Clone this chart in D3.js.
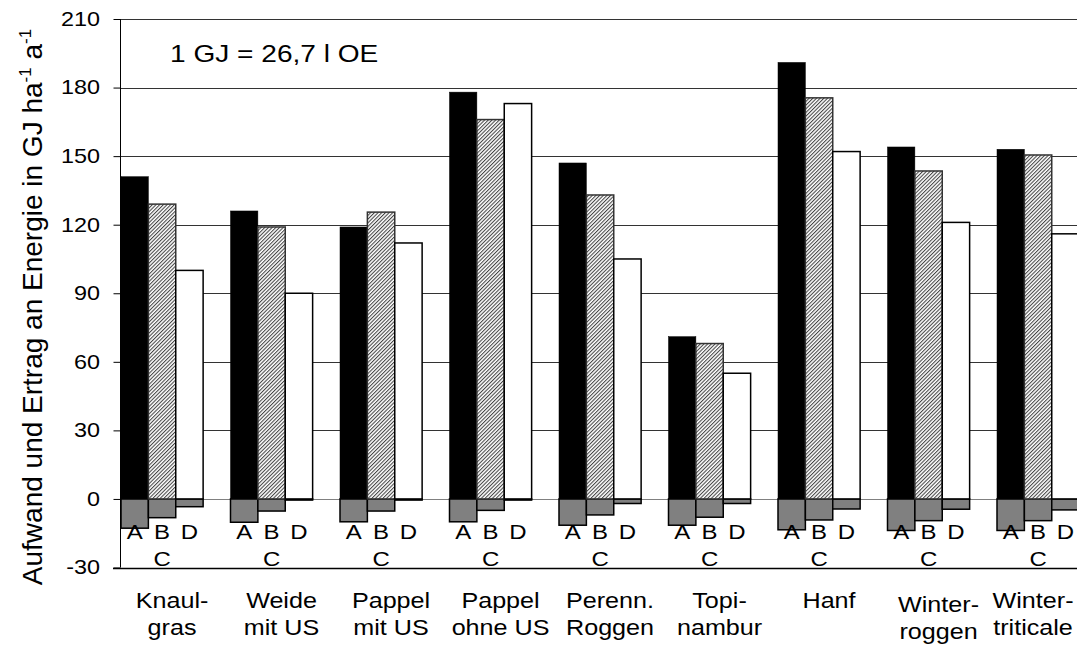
<!DOCTYPE html>
<html><head><meta charset="utf-8">
<script src="https://cdn.jsdelivr.net/npm/d3@7"></script>
<style>html,body{margin:0;padding:0;background:#fff;}svg{display:block;font-family:Arial,"Liberation Sans",sans-serif;}</style>
</head><body>
<svg id="c" width="1077" height="645"></svg>
<script>
const categories = [["Knaul-","gras"],["Weide","mit US"],["Pappel","mit US"],["Pappel","ohne US"],["Perenn.","Roggen"],["Topi-","nambur"],["Hanf",""],["Winter-","roggen"],["Winter-","triticale"]];
const seriesA = [141,126,119,178,147,71,191,154,153];
const seriesB = [129,119,125.5,166,133,68,175.5,143.5,150.5];
const seriesD = [100,90,112,173,105,55,152,121,116];
const negA = [-12.8,-10.2,-10,-10,-11.5,-11.5,-13.5,-13.8,-13.8];
const negB = [-8.2,-5.3,-5.3,-5,-7,-8,-9.2,-9.5,-9.5];
const negD = [-3.4,-0.5,-0.5,-0.5,-2,-2,-4.4,-4.5,-4.8];
const yTicks = [-30,0,30,60,90,120,150,180,210];
const slotLabels = ["A","B","D"];

const SX = 1.17; // horizontal stretch of horizontal text
const svg = d3.select("#c");
const defs = svg.append("defs");
const pat = defs.append("pattern").attr("id","hatch").attr("patternUnits","userSpaceOnUse")
  .attr("width",2.6).attr("height",2.6).attr("patternTransform","rotate(45)");
pat.append("rect").attr("width",2.6).attr("height",2.6).attr("fill","#fff");
pat.append("rect").attr("width",1.05).attr("height",2.6).attr("fill","#444");

function htext(sel, x, y, size, txt, anchor){
  return sel.append("text").attr("transform",`translate(${x},${y}) scale(${SX},1)`)
    .attr("text-anchor",anchor||"middle").attr("font-size",size).text(txt);
}

const y = d3.scaleLinear().domain([-30,210]).range([567.5,19]);
const x0 = d3.scaleBand().domain(d3.range(categories.length)).range([121,121+109.5*categories.length]);
const x1 = d3.scaleBand().domain([0,1,2,3]).range([0,x0.bandwidth()]);

// gridlines
svg.append("g").selectAll("line").data(yTicks.filter(t=>t>-30)).join("line")
  .attr("x1",120).attr("x2",1077).attr("y1",d=>Math.round(y(d))+0.5).attr("y2",d=>Math.round(y(d))+0.5)
  .attr("stroke",d=>d===0?"#808080":"#333").attr("stroke-width",1);

// y axis
const yAxis = d3.axisLeft(y).tickValues(yTicks).tickSize(7).tickPadding(13).tickFormat(d3.format("d"));
const gy = svg.append("g").attr("transform","translate(120.5,0)").call(yAxis);
gy.select(".domain").attr("stroke","#000").attr("d","M0,"+y(210)+"V"+y(-30));
gy.selectAll(".tick line").attr("stroke","#000");
gy.selectAll(".tick text").attr("font-size",20).attr("fill","#000")
  .attr("font-family","Arial,'Liberation Sans',sans-serif")
  .attr("x",-20.5/SX).attr("transform",`scale(${SX},1)`)
  .text(d=>d<0?"-"+Math.abs(d):d);

const rows = categories.map((c,i)=>({i, pos:[seriesA[i],seriesB[i],seriesD[i]], neg:[negA[i],negB[i],negD[i]]}));
const pFill = ["#000","url(#hatch)","#fff"];
const pStroke = ["#000","#333","#000"];

const g = svg.append("g").selectAll("g").data(rows).join("g").attr("transform",d=>`translate(${x0(d.i)},0)`);
// negative bars
g.selectAll("rect.n").data(d=>d.neg.map((v,k)=>({v,k}))).join("rect").attr("class","n")
  .attr("x",d=>x1(d.k)).attr("width",x1.bandwidth())
  .attr("y",y(0)).attr("height",d=>y(d.v)-y(0))
  .attr("fill","#808080").attr("stroke","#000").attr("stroke-width",1.5);
// positive bars
g.selectAll("rect.p").data(d=>d.pos.map((v,k)=>({v,k}))).join("rect").attr("class","p")
  .attr("x",d=>x1(d.k)).attr("width",x1.bandwidth())
  .attr("y",d=>y(d.v)).attr("height",d=>y(0)-y(d.v))
  .attr("fill",d=>pFill[d.k]).attr("stroke",d=>pStroke[d.k]).attr("stroke-width",d=>d.k===0?0.5:1.5);

// slot letters + category labels
g.each(function(d){
  const sel = d3.select(this);
  slotLabels.forEach((t,k)=>htext(sel, x1(k)+x1.bandwidth()/2, 539, 20.5, t));
  htext(sel, x1(1)+x1.bandwidth()/2, 566, 20.5, "C");
  let cx = x0.bandwidth()*0.466;
  if (d.i === categories.length-1) cx -= 15; // keep last label inside the frame
  const dy = d.i===7?4:0;
  categories[d.i].forEach((t,j)=>{
    if(!t) return;
    htext(sel, cx, 608+dy+j*27, 21.5, t);
  });
});

// bottom axis line
svg.append("line").attr("x1",113).attr("x2",1077).attr("y1",Math.round(y(-30))+0.5).attr("y2",Math.round(y(-30))+0.5)
  .attr("stroke","#000").attr("stroke-width",1.5);

// annotation
htext(svg, 170, 61.5, 24, "1 GJ = 26,7 l OE", "start");

// y title
const tt = svg.append("text").attr("transform","translate(41.5,307) rotate(-90)").attr("text-anchor","middle").attr("font-size",28);
tt.append("tspan").text("Aufwand und Ertrag an Energie in GJ ha");
tt.append("tspan").attr("font-size",17).attr("dy",-11).text("-1");
tt.append("tspan").attr("dy",11).text(" a");
tt.append("tspan").attr("font-size",17).attr("dy",-11).text("-1");
</script>
</body></html>
